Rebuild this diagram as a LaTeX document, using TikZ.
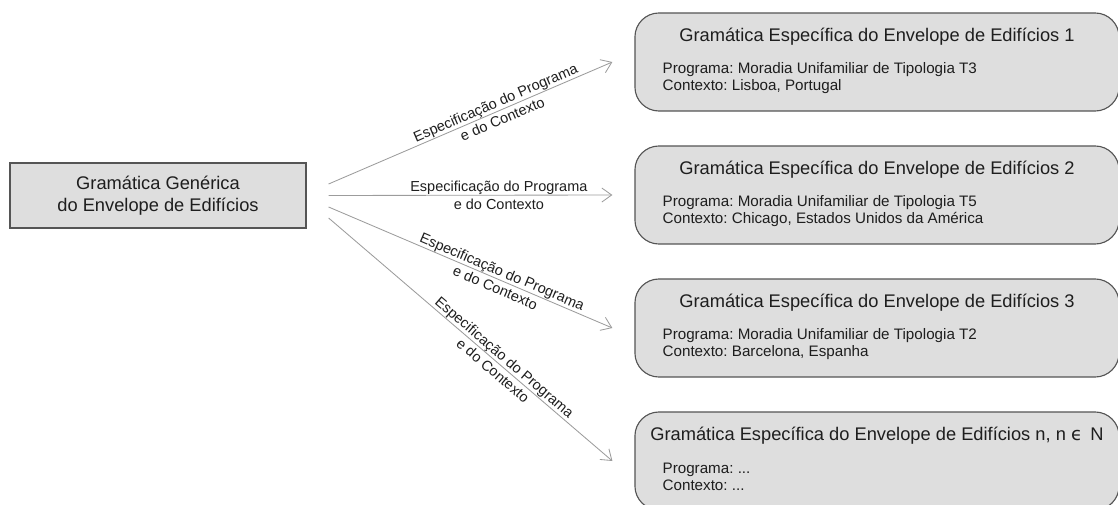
\documentclass[tikz,border=0pt]{standalone}
\usepackage{fontspec}
\setmainfont{Liberation Sans}
\newfontfamily\simbolo{DejaVu Sans}
\usepackage{tikz}
\usetikzlibrary{arrows.meta, positioning, calc}
\frenchspacing

\definecolor{caixa}{HTML}{DEDEDE}
\definecolor{borda}{HTML}{555555}
\definecolor{cinzaseta}{HTML}{9C9C9C}
\definecolor{texto}{HTML}{1E1E1E}

\begin{document}
\begin{tikzpicture}[x=0.025cm, y=-0.025cm,
        every node/.style={text=texto, inner sep=0pt},
        generica/.style={draw=borda, fill=caixa, line width=0.8pt, minimum width=7.4cm, minimum height=1.625cm, align=center},
        especifica/.style={draw=borda, fill=caixa, line width=0.8pt, rounded corners=0.6cm, minimum width=12.1cm, minimum height=2.45cm},
        titulo/.style={font=\fontsize{13}{15.6}\selectfont},
        detalhe/.style={font=\fontsize{10.8}{12.2}\selectfont, align=left, anchor=west},
        rotulo/.style={font=\fontsize{10.3}{12.6}\selectfont, align=center, sloped, pos=0.6},
        seta/.style={draw=cinzaseta, line width=0.6pt, -{Straight Barb[length=7pt, width=10pt]}}]
    \useasboundingbox (0,0) rectangle (1118,505);
    \clip (0,0) rectangle (1118,505);
    % Generic grammar
    \node[generica, titulo] (generica) at (158,195.5) {Gramática Genérica\\do Envelope de Edifícios};
    % Specific grammars
    \node[especifica] (esp1) at (877,62) {};
    \node[especifica] (esp2) at (877,195) {};
    \node[especifica] (esp3) at (877,328) {};
    \node[especifica] (esp4) at (877,461) {};
    % Titles
    \node[titulo] (tit1) at ($(esp1.north)+(0,24)$) {Gramática Específica do Envelope de Edifícios 1};
    \node[titulo] (tit2) at ($(esp2.north)+(0,24)$) {Gramática Específica do Envelope de Edifícios 2};
    \node[titulo] (tit3) at ($(esp3.north)+(0,24)$) {Gramática Específica do Envelope de Edifícios 3};
    \node[titulo] (tit4) at ($(esp4.north)+(0,24)$) {Gramática Específica do Envelope de Edifícios n, n {\simbolo ϵ}\, N};
    % Programme and context
    \node[detalhe] (det1) at ($(esp1.north west)+(28,65.5)$) {Programa: Moradia Unifamiliar de Tipologia T3\\Contexto: Lisboa, Portugal};
    \node[detalhe] (det2) at ($(esp2.north west)+(28,65.5)$) {Programa: Moradia Unifamiliar de Tipologia T5\\Contexto: Chicago, Estados Unidos da América};
    \node[detalhe] (det3) at ($(esp3.north west)+(28,65.5)$) {Programa: Moradia Unifamiliar de Tipologia T2\\Contexto: Barcelona, Espanha};
    \node[detalhe] (det4) at ($(esp4.north west)+(28,65.5)$) {Programa: ...\\Contexto: ...};
    % Connectors
    \draw[seta] ($(generica.east)+(22,-11.5)$) -- node[rotulo] (rot1) {Especificação do Programa\\e do Contexto} ($(esp1.west)+(-22,0)$);
    \draw[seta] ($(generica.east)+(22,0)$) -- node[rotulo] (rot2) {Especificação do Programa\\e do Contexto} ($(esp2.west)+(-22,0)$);
    \draw[seta] ($(generica.east)+(22,11.5)$) -- node[rotulo] (rot3) {Especificação do Programa\\e do Contexto} ($(esp3.west)+(-22,0)$);
    \draw[seta] ($(generica.east)+(22,22.5)$) -- node[rotulo] (rot4) {Especificação do Programa\\e do Contexto} ($(esp4.west)+(-22,0)$);
\end{tikzpicture}
\end{document}
